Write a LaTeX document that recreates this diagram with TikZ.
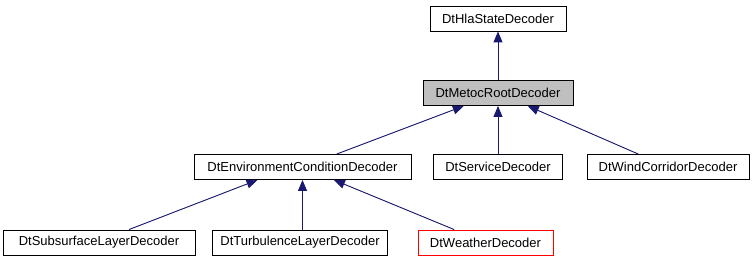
\documentclass[tikz,border=0pt]{standalone}
\usepackage{fontspec}
\setmainfont{Liberation Sans}
\usepackage{xcolor}
\usetikzlibrary{arrows.meta}

\definecolor{doxnavy}{HTML}{191970}
\definecolor{doxgray}{HTML}{BFBFBF}

\begin{document}
\begin{tikzpicture}[
    x=1pt, y=-1pt,
    cls/.style={draw=#1, fill=white, line width=0.9pt, minimum height=25pt, inner sep=0pt, font=\fontsize{13}{15}\selectfont},
    cls/.default=black,
    inh/.style={-{Triangle[length=11pt, width=9pt]}, line width=0.9pt, draw=doxnavy, fill=doxnavy},
]
\useasboundingbox (0,0) rectangle (753,261);

% top
\node[cls, minimum width=136pt] (hla) at (498, 18.5) {DtHlaStateDecoder};
\node[cls, fill=doxgray, minimum width=150pt] (metoc) at (498, 93) {DtMetocRootDecoder};

% middle row
\node[cls, minimum width=217pt] (env) at (302.5, 167) {DtEnvironmentConditionDecoder};
\node[cls, minimum width=129pt] (service) at (498, 167) {DtServiceDecoder};
\node[cls, minimum width=162pt] (wind) at (668, 167) {DtWindCorridorDecoder};

% bottom row
\node[cls, minimum width=192pt] (sub) at (99, 242.5) {DtSubsurfaceLayerDecoder};
\node[cls, minimum width=175pt] (turb) at (300, 242.5) {DtTurbulenceLayerDecoder};
\node[cls=red, minimum width=135pt] (weather) at (485.5, 242.5) {DtWeatherDecoder};

% inheritance arrows
\draw[inh] (metoc) -- (hla);
\draw[inh] (env) -- (metoc);
\draw[inh] (service) -- (metoc);
\draw[inh] (wind) -- (metoc);
\draw[inh] ([xshift=30]sub.north) -- ([xshift=-45]env.south);
\draw[inh] (turb.north -| env.south) -- (env.south);
\draw[inh] (weather) -- (env);

\end{tikzpicture}
\end{document}
